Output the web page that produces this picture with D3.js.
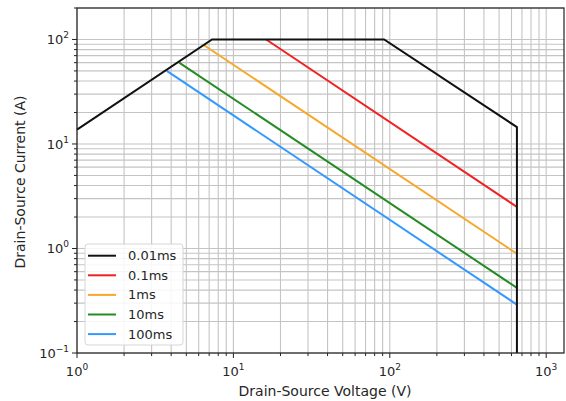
<!DOCTYPE html>
<html>
<head>
<meta charset="utf-8">
<script src="https://cdn.jsdelivr.net/npm/d3@7"></script>
<style>
  body { margin: 0; background: #fff; }
  text { font-family: "DejaVu Sans", sans-serif; fill: #262626; }
</style>
</head>
<body>
<div id="my_dataviz"></div>
<script>
// series names and colors
var seriesNames = ["0.01ms", "0.1ms", "1ms", "10ms", "100ms"];
var seriesColors = ["#111111", "#ee2222", "#f7a72a", "#228b22", "#3399ff"];

// voltage (V) and current (A) points
var voltage001 = [1, 7.3, 92, 650, 650];
var current001 = [13.7, 100, 100, 14.5, 0.1];
var voltage01 = [16.2, 650];
var current01 = [100, 2.5];
var voltage1 = [6.5, 650];
var current1 = [88, 0.89];
var voltage10 = [4.5, 650];
var current10 = [60, 0.42];
var voltage100 = [3.75, 650];
var current100 = [50, 0.29];

var xTicks = [1, 10, 100, 1000];
var yTicks = [0.1, 1, 10, 100];

/*
------------------------
METHOD: set the dimensions of the graph
------------------------
*/
var margin = { top: 8, right: 2, bottom: 48, left: 77 },
  width = 566 - margin.left - margin.right,
  height = 401 - margin.top - margin.bottom;

var svg = d3.select("#my_dataviz")
  .append("svg")
  .attr("width", 566)
  .attr("height", 401)
  .append("g")
  .attr("transform", "translate(" + margin.left + "," + margin.top + ")");

var x = d3.scaleLog().domain([1, 1300]).range([0, width]);
var y = d3.scaleLog().domain([0.1, 200]).range([height, 0]);

// all tick positions (major + minor) inside the domain
function logTicks(lo, hi) {
  var out = [];
  for (var e = -2; e <= 4; e++) {
    for (var m = 1; m < 10; m++) {
      var v = m * Math.pow(10, e);
      if (v >= lo * 0.9999 && v <= hi * 1.0001) out.push({ v: v, major: m == 1 });
    }
  }
  return out;
}
var xAll = logTicks(1, 1300);
var yAll = logTicks(0.1, 200);

/*
------------------------
METHOD: grid lines (major and minor)
------------------------
*/
svg.selectAll(".gx")
  .data(xAll)
  .enter()
  .append("line")
  .attr("x1", function(d) { return x(d.v); })
  .attr("x2", function(d) { return x(d.v); })
  .attr("y1", 0)
  .attr("y2", height)
  .attr("stroke", "#c4c4c4")
  .attr("stroke-width", 1.1);

svg.selectAll(".gy")
  .data(yAll)
  .enter()
  .append("line")
  .attr("x1", 0)
  .attr("x2", width)
  .attr("y1", function(d) { return y(d.v); })
  .attr("y2", function(d) { return y(d.v); })
  .attr("stroke", "#c4c4c4")
  .attr("stroke-width", 1.1);

/*
------------------------
METHOD: the SOA lines
------------------------
*/
var allSeries = [
  d3.zip(voltage001, current001),
  d3.zip(voltage01, current01),
  d3.zip(voltage1, current1),
  d3.zip(voltage10, current10),
  d3.zip(voltage100, current100)
];

var line = d3.line()
  .x(function(d) { return x(d[0]); })
  .y(function(d) { return y(d[1]); });

// draw from last to first so the black one stays on top
for (var i = allSeries.length - 1; i >= 0; i--) {
  svg.append("path")
    .datum(allSeries[i])
    .attr("d", line)
    .attr("fill", "none")
    .attr("stroke", seriesColors[i])
    .attr("stroke-width", 2);
}

/*
------------------------
METHOD: spines, ticks and tick labels
------------------------
*/
svg.append("rect")
  .attr("x", 0).attr("y", 0)
  .attr("width", width).attr("height", height)
  .attr("fill", "none")
  .attr("stroke", "#222")
  .attr("stroke-width", 1.2);

svg.selectAll(".tx")
  .data(xAll)
  .enter()
  .append("line")
  .attr("x1", function(d) { return x(d.v); })
  .attr("x2", function(d) { return x(d.v); })
  .attr("y1", height)
  .attr("y2", function(d) { return height + (d.major ? 5 : 3); })
  .attr("stroke", "#222");

svg.selectAll(".ty")
  .data(yAll)
  .enter()
  .append("line")
  .attr("x1", function(d) { return d.major ? -5 : -3; })
  .attr("x2", 0)
  .attr("y1", function(d) { return y(d.v); })
  .attr("y2", function(d) { return y(d.v); })
  .attr("stroke", "#222");

function powLabel(sel, v) {
  var e = Math.round(Math.log10(v));
  sel.append("tspan").text("10");
  sel.append("tspan")
    .attr("dy", -6)
    .attr("font-size", "9px")
    .text(e < 0 ? "\u2212" + (-e) : e);
}

xTicks.forEach(function(t) {
  var lab = svg.append("text")
    .attr("x", x(t))
    .attr("y", height + 23)
    .attr("text-anchor", "middle")
    .attr("font-size", "13px");
  powLabel(lab, t);
});

yTicks.forEach(function(t) {
  var lab = svg.append("text")
    .attr("x", -8)
    .attr("y", y(t) + 5)
    .attr("text-anchor", "end")
    .attr("font-size", "13px");
  powLabel(lab, t);
});

/*
------------------------
METHOD: axis titles
------------------------
*/
svg.append("text")
  .attr("x", 325 - margin.left)
  .attr("y", height + 43)
  .attr("text-anchor", "middle")
  .attr("font-size", "14px")
  .text("Drain-Source Voltage (V)");

svg.append("text")
  .attr("transform", "translate(" + (25 - margin.left) + "," + (182 - margin.top) + ") rotate(-90)")
  .attr("text-anchor", "middle")
  .attr("font-size", "14px")
  .text("Drain-Source Current (A)");

/*
------------------------
METHOD: legend
------------------------
*/
var legend = svg.append("g")
  .attr("transform", "translate(" + (85 - margin.left) + "," + (244 - margin.top) + ")");

legend.append("rect")
  .attr("width", 98)
  .attr("height", 101)
  .attr("rx", 3)
  .attr("fill", "#fff")
  .attr("fill-opacity", 0.85)
  .attr("stroke", "#d6d6d6");

seriesNames.forEach(function(name, i) {
  var ly = 11.7 + i * 19.6;
  legend.append("line")
    .attr("x1", 3).attr("x2", 31)
    .attr("y1", ly).attr("y2", ly)
    .attr("stroke", seriesColors[i])
    .attr("stroke-width", 2);
  legend.append("text")
    .attr("x", 43)
    .attr("y", ly + 4.5)
    .attr("font-size", "13px")
    .text(name);
});
</script>
</body>
</html>
